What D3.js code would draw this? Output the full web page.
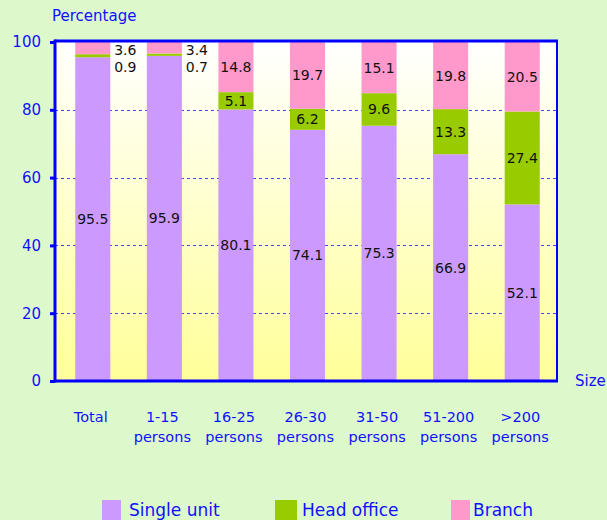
<!DOCTYPE html>
<html>
<head>
<meta charset="utf-8">
<script src="https://cdn.jsdelivr.net/npm/d3@7"></script>
<style>
  body { margin: 0; background: #ddf8cb; }
  svg { display: block; font-family: "DejaVu Sans", Verdana, sans-serif; }
  .blue { fill: #1010ff; }
</style>
</head>
<body>
<div id="chart"></div>
<script>
// ---- data ----
var categories = ["Total", "1-15 persons", "16-25 persons", "26-30 persons", "31-50 persons", "51-200 persons", ">200 persons"];
var singleUnit = [95.5, 95.9, 80.1, 74.1, 75.3, 66.9, 52.1];
var headOffice = [0.9, 0.7, 5.1, 6.2, 9.6, 13.3, 27.4];
var branch     = [3.6, 3.4, 14.8, 19.7, 15.1, 19.8, 20.5];
var seriesNames = ["Single unit", "Head office", "Branch"];
var yTicks = [0, 20, 40, 60, 80, 100];

var colors = ["#cc99ff", "#99cc00", "#ff99cc"];

var width = 607, height = 520;
var plot = {left: 55, right: 557, top: 42, bottom: 381};

var svg = d3.select("#chart").append("svg")
    .attr("width", width)
    .attr("height", height);

var x = d3.scaleBand().domain(categories).range([plot.left + 2, plot.right + 1])
    .paddingInner(0.51).paddingOuter(0.255);
var y = d3.scaleLinear().domain([0, 100]).range([plot.bottom, plot.top]);

// plot background gradient
var grad = svg.append("defs").append("linearGradient")
    .attr("id", "bg").attr("x1", 0).attr("y1", 0).attr("x2", 0).attr("y2", 1);
grad.append("stop").attr("offset", "0%").attr("stop-color", "#ffffff");
grad.append("stop").attr("offset", "100%").attr("stop-color", "#ffff99");

svg.append("rect")
    .attr("x", plot.left).attr("y", plot.top)
    .attr("width", plot.right - plot.left).attr("height", plot.bottom - plot.top)
    .attr("fill", "url(#bg)");

// gridlines
svg.append("g").selectAll("line")
    .data(yTicks.filter(function(d) { return d > 0 && d < 100; }))
    .enter().append("line")
    .attr("x1", plot.left).attr("x2", plot.right)
    .attr("y1", function(d) { return Math.round(y(d)) + 0.5; })
    .attr("y2", function(d) { return Math.round(y(d)) + 0.5; })
    .attr("stroke", "#4646ff")
    .attr("stroke-width", 1)
    .attr("shape-rendering", "crispEdges")
    .attr("stroke-dasharray", "3,3");

// stacked bars
var rows = categories.map(function(c, i) {
  return {cat: c, "Single unit": singleUnit[i], "Head office": headOffice[i], "Branch": branch[i]};
});
var stack = d3.stack().keys(seriesNames)(rows);

var layers = svg.append("g").selectAll("g")
    .data(stack)
    .enter().append("g")
    .attr("fill", function(d, i) { return colors[i]; });

layers.selectAll("rect")
    .data(function(d) { return d; })
    .enter().append("rect")
    .attr("x", function(d) { return x(d.data.cat); })
    .attr("width", x.bandwidth())
    .attr("y", function(d) { return y(d[1]); })
    .attr("height", function(d) { return y(d[0]) - y(d[1]); });

// value labels
var labels = svg.append("g")
    .attr("font-size", 14)
    .attr("fill", "#111");

stack.forEach(function(layer, si) {
  layer.forEach(function(d, i) {
    var v = d[1] - d[0];
    var small = headOffice[i] < 2 && si > 0;
    var lx, ly;
    if (small) {
      // tiny segments: labels to the right of the bar
      lx = x(d.data.cat) + x.bandwidth() + 15;
      ly = si === 2 ? y(100) + 13 : y(100) + 30;
    } else {
      lx = x(d.data.cat) + x.bandwidth() / 2;
      ly = (y(d[0]) + y(d[1])) / 2 + 5;
    }
    labels.append("text")
        .attr("x", lx).attr("y", ly)
        .attr("text-anchor", "middle")
        .text(d3.format(".1f")(v));
  });
});

// frame
var frame = svg.append("g").attr("stroke", "#0000ff").attr("fill", "none");
frame.append("line").attr("x1", plot.left).attr("x2", plot.right + 1)
    .attr("y1", plot.top - 1).attr("y2", plot.top - 1).attr("stroke-width", 3);
frame.append("line").attr("x1", plot.right).attr("x2", plot.right)
    .attr("y1", plot.top - 1).attr("y2", plot.bottom).attr("stroke-width", 2);
frame.append("line").attr("x1", plot.left).attr("x2", plot.right + 1)
    .attr("y1", plot.bottom).attr("y2", plot.bottom).attr("stroke-width", 3);

// y axis
var yAxis = svg.append("g")
    .attr("transform", "translate(" + plot.left + ",0)")
    .call(d3.axisLeft(y).tickValues(yTicks).tickSize(5).tickPadding(9));
yAxis.select(".domain").attr("stroke", "#0000ff").attr("stroke-width", 3)
    .attr("d", "M0," + (plot.top - 2.5) + "V" + (plot.bottom + 1.5));
yAxis.selectAll(".tick line").attr("stroke", "#0000ff").attr("stroke-width", 3);
yAxis.selectAll(".tick text")
    .attr("fill", "#1010ff")
    .attr("font-size", 15)
    .attr("font-family", "DejaVu Sans, sans-serif");

// category labels
var catG = svg.append("g").attr("font-size", 14.5).attr("text-anchor", "middle");
categories.forEach(function(c) {
  var parts = c.split(" ");
  var cx = x(c) + x.bandwidth() / 2 - 2;
  var t = catG.append("text").attr("class", "blue")
      .attr("x", cx)
      .attr("y", 422);
  t.append("tspan").attr("x", cx).text(parts[0]);
  if (parts[1]) {
    t.append("tspan").attr("x", cx).attr("dy", 20).text(parts[1]);
  }
});

// axis titles
svg.append("text").attr("class", "blue")
    .attr("x", 52).attr("y", 21)
    .attr("font-size", 15)
    .text("Percentage");
svg.append("text").attr("class", "blue")
    .attr("x", 575).attr("y", 386)
    .attr("font-size", 15)
    .text("Size");

// legend
var legend = svg.append("g").selectAll("g")
    .data(seriesNames)
    .enter().append("g")
    .attr("transform", function(d, i) { return "translate(" + [102, 275, 451][i] + ",500)"; });
legend.append("rect")
    .attr("width", function(d, i) { return i === 1 ? 22 : 19; })
    .attr("height", 22)
    .attr("fill", function(d, i) { return colors[i]; });
legend.append("text").attr("class", "blue")
    .attr("x", function(d, i) { return i === 2 ? 22 : 27; })
    .attr("y", 16)
    .attr("font-size", 17)
    .text(function(d) { return d; });
</script>
</body>
</html>
